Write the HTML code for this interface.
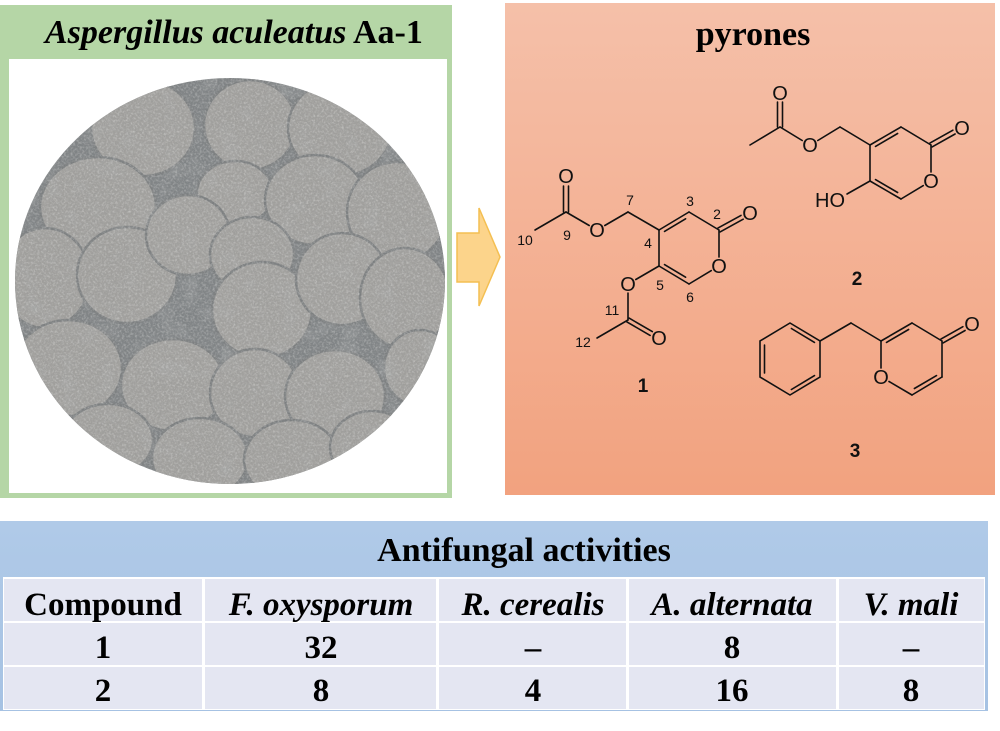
<!DOCTYPE html>
<html>
<head>
<meta charset="utf-8">
<style>
  html, body { margin: 0; padding: 0; background: #ffffff; }
  body { width: 1000px; height: 731px; overflow: hidden; }
  svg { display: block; }
  .serif { font-family: "Liberation Serif", "Times New Roman", serif; font-weight: bold; fill: #000; }
  .atom { font-family: "Liberation Sans", Arial, sans-serif; font-size: 20px; fill: #111; }
  .num { font-family: "Liberation Sans", Arial, sans-serif; font-size: 14px; fill: #111; }
  .cid { font-family: "Liberation Sans", Arial, sans-serif; font-size: 19px; font-weight: bold; fill: #111; }
</style>
</head>
<body>
<svg width="1000" height="731" viewBox="0 0 1000 731" xmlns="http://www.w3.org/2000/svg">
  <defs>
    <linearGradient id="salmon" x1="0" y1="0" x2="0" y2="1">
      <stop offset="0" stop-color="#f5c0a9"/>
      <stop offset="1" stop-color="#f2a27f"/>
    </linearGradient>
    <linearGradient id="blueband" x1="0" y1="0" x2="0" y2="1">
      <stop offset="0" stop-color="#b0cae8"/>
      <stop offset="1" stop-color="#a6c2e3"/>
    </linearGradient>
    <clipPath id="plate">
      <ellipse cx="230" cy="281" rx="215" ry="203"/>
    </clipPath>
    <filter id="noise" x="0" y="0" width="100%" height="100%">
      <feTurbulence type="fractalNoise" baseFrequency="0.7" numOctaves="2" seed="7"/>
      <feColorMatrix type="matrix" values="0 0 0 0 0.3  0 0 0 0 0.3  0 0 0 0 0.3  2.6 0 0 0 -1.05"/>
    </filter>
    <filter id="noise2" x="0" y="0" width="100%" height="100%">
      <feTurbulence type="fractalNoise" baseFrequency="0.45" numOctaves="2" seed="21"/>
      <feColorMatrix type="matrix" values="0 0 0 0 0.85  0 0 0 0 0.85  0 0 0 0 0.84  2.6 0 0 0 -1.1"/>
    </filter>
    <filter id="blotch" x="0" y="0" width="100%" height="100%">
      <feTurbulence type="fractalNoise" baseFrequency="0.05" numOctaves="2" seed="4"/>
      <feColorMatrix type="matrix" values="0 0 0 0 0.45  0 0 0 0 0.46  0 0 0 0 0.46  3 0 0 0 -1.5"/>
    </filter>
  </defs>

  <!-- LEFT PANEL -->
  <rect x="0" y="5" width="452" height="493" fill="#b5d6a6"/>
  <rect x="9" y="59" width="438" height="434" fill="#ffffff"/>
  <text class="serif" x="45" y="43" font-size="34"><tspan font-style="italic">Aspergillus aculeatus</tspan> Aa-1</text>

  <!-- plate photo -->
  <g clip-path="url(#plate)">
    <rect x="10" y="70" width="440" height="420" fill="#7f8385"/>
    <g fill="#a3a29f" stroke="#7c7f80" stroke-width="2.5">
      <ellipse cx="143" cy="128" rx="52" ry="48"/>
      <ellipse cx="250" cy="125" rx="46" ry="45"/>
      <ellipse cx="340" cy="128" rx="52" ry="48"/>
      <ellipse cx="98" cy="207" rx="58" ry="50"/>
      <ellipse cx="235" cy="193" rx="38" ry="32"/>
      <ellipse cx="315" cy="200" rx="50" ry="45"/>
      <ellipse cx="397" cy="212" rx="50" ry="50"/>
      <ellipse cx="45" cy="278" rx="45" ry="50"/>
      <ellipse cx="127" cy="275" rx="50" ry="48"/>
      <ellipse cx="188" cy="235" rx="42" ry="40"/>
      <ellipse cx="252" cy="255" rx="42" ry="38"/>
      <ellipse cx="262" cy="310" rx="50" ry="48"/>
      <ellipse cx="342" cy="279" rx="46" ry="46"/>
      <ellipse cx="405" cy="298" rx="45" ry="50"/>
      <ellipse cx="68" cy="368" rx="54" ry="48"/>
      <ellipse cx="173" cy="385" rx="52" ry="46"/>
      <ellipse cx="255" cy="393" rx="45" ry="44"/>
      <ellipse cx="335" cy="396" rx="50" ry="46"/>
      <ellipse cx="420" cy="368" rx="36" ry="38"/>
      <ellipse cx="200" cy="458" rx="48" ry="40"/>
      <ellipse cx="292" cy="460" rx="48" ry="40"/>
      <ellipse cx="108" cy="440" rx="45" ry="36"/>
      <ellipse cx="372" cy="447" rx="42" ry="36"/>
    </g>
    <rect x="10" y="70" width="440" height="420" filter="url(#blotch)" opacity="0.3"/>
    <rect x="10" y="70" width="440" height="420" filter="url(#noise2)" opacity="0.35"/>
    <rect x="10" y="70" width="440" height="420" filter="url(#noise)" opacity="0.45"/>
  </g>

  <!-- ARROW -->
  <polygon points="457,233 479,233 479,208 500,257 479,306 479,282 457,282" fill="#fcd48b" stroke="#f4bf52" stroke-width="1.5" stroke-linejoin="miter"/>

  <!-- RIGHT PANEL -->
  <rect x="505" y="3" width="490" height="492" fill="url(#salmon)"/>
  <text class="serif" x="753" y="45" font-size="34" text-anchor="middle">pyrones</text>

  <!-- STRUCTURE 1 -->
  <g stroke="#111" stroke-width="1.6" fill="none" stroke-linecap="round">
    <line x1="563.5" y1="212" x2="563.5" y2="186"/>
    <line x1="568.5" y1="212" x2="568.5" y2="186"/>
    <line x1="566" y1="212" x2="535" y2="230"/>
    <line x1="566" y1="212" x2="589.2" y2="225.5"/>
    <line x1="604.8" y1="225.5" x2="628" y2="212"/>
    <line x1="628" y1="212" x2="659" y2="230"/>
    <line x1="659" y1="230" x2="689" y2="212"/>
    <line x1="664.5" y1="231.4" x2="685.6" y2="218.8"/>
    <line x1="689" y1="212" x2="719" y2="230"/>
    <line x1="720.1" y1="231.9" x2="743.2" y2="219.2"/>
    <line x1="717.9" y1="228.1" x2="741" y2="215.4"/>
    <line x1="719" y1="230" x2="719" y2="257"/>
    <line x1="711.3" y1="270.6" x2="689" y2="284"/>
    <line x1="689" y1="284" x2="659" y2="266"/>
    <line x1="664.5" y1="264.6" x2="685.6" y2="277.2"/>
    <line x1="659" y1="266" x2="659" y2="230"/>
    <line x1="659" y1="266" x2="635.8" y2="279.5"/>
    <line x1="628" y1="293" x2="628" y2="320"/>
    <line x1="628" y1="320" x2="597" y2="338"/>
    <line x1="626.9" y1="321.9" x2="650.1" y2="335.4"/>
    <line x1="629.1" y1="318.1" x2="652.3" y2="331.6"/>
  </g>
  <g class="atom" text-anchor="middle">
    <text x="566" y="183">O</text>
    <text x="597" y="237">O</text>
    <text x="750" y="220">O</text>
    <text x="719" y="273">O</text>
    <text x="628" y="291">O</text>
    <text x="659" y="345">O</text>
  </g>
  <g class="num" text-anchor="middle">
    <text x="525" y="245">10</text>
    <text x="567" y="240">9</text>
    <text x="630" y="205">7</text>
    <text x="690" y="206">3</text>
    <text x="717" y="219">2</text>
    <text x="648" y="248">4</text>
    <text x="660" y="290">5</text>
    <text x="690" y="302">6</text>
    <text x="612" y="315">11</text>
    <text x="583" y="347">12</text>
  </g>
  <text class="cid" x="643" y="392" text-anchor="middle">1</text>

  <!-- STRUCTURE 2 -->
  <g stroke="#111" stroke-width="1.6" fill="none" stroke-linecap="round">
    <line x1="777.5" y1="127" x2="777.5" y2="102"/>
    <line x1="782.5" y1="127" x2="782.5" y2="102"/>
    <line x1="780" y1="127" x2="750" y2="145"/>
    <line x1="780" y1="127" x2="802.2" y2="140.5"/>
    <line x1="817.8" y1="140.5" x2="840" y2="127"/>
    <line x1="840" y1="127" x2="870" y2="145"/>
    <line x1="870" y1="145" x2="901" y2="127"/>
    <line x1="875.5" y1="146.4" x2="897.6" y2="133.5"/>
    <line x1="901" y1="127" x2="931" y2="145"/>
    <line x1="932.1" y1="146.9" x2="955.1" y2="134"/>
    <line x1="929.9" y1="143.1" x2="952.9" y2="130.2"/>
    <line x1="931" y1="145" x2="931" y2="172"/>
    <line x1="923.3" y1="185.6" x2="901" y2="199"/>
    <line x1="901" y1="199" x2="870" y2="181"/>
    <line x1="875.5" y1="179.6" x2="897.6" y2="192.5"/>
    <line x1="870" y1="181" x2="870" y2="145"/>
    <line x1="870" y1="181" x2="847" y2="194"/>
  </g>
  <g class="atom" text-anchor="middle">
    <text x="780" y="100">O</text>
    <text x="810" y="152">O</text>
    <text x="962" y="135">O</text>
    <text x="931" y="188">O</text>
  </g>
  <text class="atom" x="815" y="207">HO</text>
  <text class="cid" x="857" y="285" text-anchor="middle">2</text>

  <!-- STRUCTURE 3 -->
  <g stroke="#111" stroke-width="1.6" fill="none" stroke-linecap="round">
    <polygon points="790,323 820,341 820,377 790,395 760,377 760,341"/>
    <line x1="764.5" y1="345" x2="764.5" y2="373"/>
    <line x1="791.4" y1="328.5" x2="814.5" y2="342.4"/>
    <line x1="814.5" y1="375.6" x2="791.4" y2="389.5"/>
    <line x1="820" y1="341" x2="851" y2="323"/>
    <line x1="851" y1="323" x2="881" y2="341"/>
    <line x1="881" y1="341" x2="912" y2="323"/>
    <line x1="886.5" y1="342.4" x2="908.6" y2="329.5"/>
    <line x1="912" y1="323" x2="942" y2="341"/>
    <line x1="943.1" y1="342.9" x2="965.1" y2="330.5"/>
    <line x1="940.9" y1="339.1" x2="962.9" y2="326.7"/>
    <line x1="942" y1="341" x2="942" y2="377"/>
    <line x1="942" y1="377" x2="912" y2="395"/>
    <line x1="936.5" y1="375.6" x2="914.4" y2="388.5"/>
    <line x1="912" y1="395" x2="889" y2="381.5"/>
    <line x1="881" y1="368" x2="881" y2="341"/>
  </g>
  <g class="atom" text-anchor="middle">
    <text x="881" y="384">O</text>
    <text x="972" y="331">O</text>
  </g>
  <text class="cid" x="855" y="457" text-anchor="middle">3</text>

  <!-- TABLE -->
  <rect x="0" y="521" width="988" height="190" fill="url(#blueband)"/>
  <rect x="3" y="577" width="982" height="133" fill="#ffffff"/>
  <g fill="#e4e6f2">
    <rect x="4" y="579" width="198" height="42"/>
    <rect x="205" y="579" width="231" height="42"/>
    <rect x="439" y="579" width="187" height="42"/>
    <rect x="629" y="579" width="207" height="42"/>
    <rect x="839" y="579" width="145" height="42"/>

    <rect x="4" y="623" width="198" height="42"/>
    <rect x="205" y="623" width="231" height="42"/>
    <rect x="439" y="623" width="187" height="42"/>
    <rect x="629" y="623" width="207" height="42"/>
    <rect x="839" y="623" width="145" height="42"/>

    <rect x="4" y="667" width="198" height="42"/>
    <rect x="205" y="667" width="231" height="42"/>
    <rect x="439" y="667" width="187" height="42"/>
    <rect x="629" y="667" width="207" height="42"/>
    <rect x="839" y="667" width="145" height="42"/>
  </g>
  <text class="serif" x="524" y="561" font-size="34" text-anchor="middle">Antifungal activities</text>

  <g class="serif" font-size="33" text-anchor="middle">
    <text x="103" y="615">Compound</text>
    <text x="321" y="615" font-style="italic">F. oxysporum</text>
    <text x="533" y="615" font-style="italic">R. cerealis</text>
    <text x="732" y="615" font-style="italic">A. alternata</text>
    <text x="911" y="615" font-style="italic">V. mali</text>

    <text x="103" y="658">1</text>
    <text x="321" y="658">32</text>
    <text x="533" y="658">–</text>
    <text x="732" y="658">8</text>
    <text x="911" y="658">–</text>

    <text x="103" y="701">2</text>
    <text x="321" y="701">8</text>
    <text x="533" y="701">4</text>
    <text x="732" y="701">16</text>
    <text x="911" y="701">8</text>
  </g>
</svg>
</body>
</html>
